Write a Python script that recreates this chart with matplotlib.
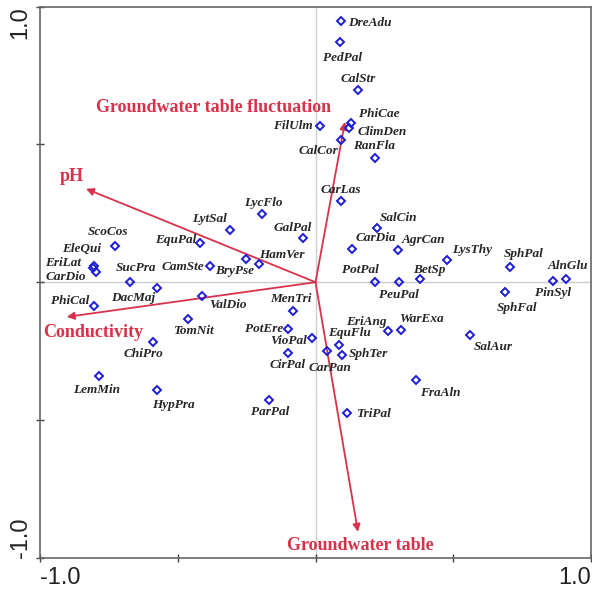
import matplotlib
matplotlib.use("Agg")
import matplotlib.pyplot as plt

# species scores (axis 1, axis 2)
species = ['DreAdu', 'PedPal', 'CalStr', 'PhiCae', 'ClimDen', 'FilUlm', 'CalCor', 'RanFla',
           'CarLas', 'SalCin', 'GalPal', 'CarDia', 'AgrCan', 'LysThy', 'SphPal', 'AlnGlu',
           'PinSyl', 'SphFal', 'PotPal', 'PeuPal', 'BetSp', 'MenTri', 'PotEre', 'VioPal',
           'CirPal', 'CarPan', 'EquFlu', 'SphTer', 'EriAng', 'WarExa', 'FraAln', 'ParPal',
           'TriPal', 'SalAur', 'ScoCos', 'EquPal', 'EleQui', 'EriLat', 'CarDio', 'SucPra',
           'CamSte', 'DacMaj', 'PhiCal', 'ValDio', 'TomNit', 'ChiPro', 'LemMin', 'HypPra',
           'LytSal', 'LycFlo', 'BryPse', 'HamVer']
sp_x = [0.091, 0.089, 0.155, 0.128, 0.121, 0.016, 0.091, 0.216,
        0.091, 0.222, -0.047, 0.131, 0.298, 0.477, 0.706, 0.911,
        0.861, 0.687, 0.216, 0.304, 0.379, -0.081, -0.099, -0.011,
        -0.101, 0.041, 0.084, 0.098, 0.263, 0.311, 0.363, -0.168,
        0.115, 0.560, -0.728, -0.420, -0.804, -0.808, -0.797, -0.674,
        -0.383, -0.575, -0.804, -0.412, -0.464, -0.589, -0.785, -0.575,
        -0.311, -0.193, -0.254, -0.205]
sp_y = [0.948, 0.873, 0.698, 0.579, 0.560, 0.568, 0.517, 0.450,
        0.293, 0.196, 0.160, 0.120, 0.116, 0.080, 0.054, 0.011,
        0.005, -0.034, 0.002, 0.002, 0.011, -0.105, -0.170, -0.201,
        -0.258, -0.249, -0.229, -0.263, -0.177, -0.173, -0.356, -0.427,
        -0.473, -0.191, 0.132, 0.142, 0.059, 0.052, 0.037, 0.000,
        0.059, -0.020, -0.086, -0.050, -0.134, -0.216, -0.340, -0.391,
        0.189, 0.249, 0.083, 0.066]

# environmental variables (arrow tips)
env_names = ['Groundwater table fluctuation', 'pH', 'Conductivity', 'Groundwater table']
env_x = [0.107, -0.833, -0.903, 0.154]
env_y = [0.582, 0.339, -0.126, -0.906]

# label offsets in pixels (dx, dy) from each symbol, to keep names readable
lab_off = {
    'DreAdu': (29, -2), 'PedPal': (2, -16), 'CalStr': (0, 11), 'PhiCae': (28, 9),
    'ClimDen': (33, -4), 'FilUlm': (-27, 0), 'CalCor': (-22, -11), 'RanFla': (-1, 12),
    'CarLas': (0, 11), 'SalCin': (22, 10), 'GalPal': (-10, 10), 'CarDia': (24, 11),
    'AgrCan': (26, 10), 'LysThy': (25, 10), 'SphPal': (14, 13), 'AlnGlu': (1, 13),
    'PinSyl': (0, -12), 'SphFal': (12, -16), 'PotPal': (-15, 12), 'PeuPal': (0, -13),
    'BetSp': (9, 9), 'MenTri': (-2, 12), 'PotEre': (-24, 0), 'VioPal': (-24, -3),
    'CirPal': (0, -12), 'CarPan': (3, -17), 'EquFlu': (11, 12), 'SphTer': (26, 1),
    'EriAng': (-22, 9), 'WarExa': (20, 11), 'FraAln': (25, -13), 'ParPal': (1, -12),
    'TriPal': (26, -1), 'SalAur': (23, -12), 'ScoCos': (-7, 14), 'EquPal': (-24, 3),
    'EleQui': (-12, 17), 'EriLat': (-30, 5), 'CarDio': (-30, -5), 'SucPra': (6, 14),
    'CamSte': (-27, -1), 'DacMaj': (-24, -10), 'PhiCal': (-24, 5), 'ValDio': (26, -9),
    'TomNit': (6, -12), 'ChiPro': (-10, -12), 'LemMin': (-3, -14), 'HypPra': (16, -15),
    'LytSal': (-20, 11), 'LycFlo': (1, 11), 'BryPse': (-11, -12), 'HamVer': (23, 9),
}
env_lab_pos = [(-0.369, 0.633), (-0.886, 0.382), (-0.808, -0.184), (0.161, -0.957)]

red = '#d8324a'
blue = '#1c1cd6'

fig = plt.figure(figsize=(5.92, 5.90), dpi=100)
ax = fig.add_axes([40 / 592, 1 - 557.7 / 590, 551 / 592, 551 / 590])

ax.axhline(0, color='#cccccc', lw=1, zorder=0)
ax.axvline(0, color='#cccccc', lw=1, zorder=0)

ax.plot(sp_x, sp_y, 'D', ms=4.5, mfc='none', mec=blue, mew=1.4, zorder=3)
for name, x, y in zip(species, sp_x, sp_y):
    dx, dy = lab_off[name]
    ax.annotate(name, (x, y), xytext=(dx, dy), textcoords='offset pixels',
                ha='center', va='center', fontsize=9.5, color='#262626',
                family='Liberation Serif', fontweight='bold', fontstyle='italic')

for name, x, y, (lx, ly) in zip(env_names, env_x, env_y, env_lab_pos):
    ax.annotate('', xy=(x, y), xytext=(0, 0),
                arrowprops=dict(arrowstyle='-|>', color=red, lw=1.3,
                                mutation_scale=11, shrinkA=0, shrinkB=0), zorder=2)
    ax.text(lx, ly, name, ha='center', va='center', fontsize=13, color=red,
            family='Liberation Serif', fontweight='bold')

ax.set_xlim(-1, 1)
ax.set_ylim(-1, 1)
ticks = [-1, -0.5, 0, 0.5, 1]
ax.set_xticks(ticks)
ax.set_yticks(ticks)
ax.set_xticklabels(['-1.0', '', '', '', '1.0'], family='Liberation Sans', fontsize=17, color='#222222')
ax.set_yticklabels(['-1.0', '', '', '', '1.0'], family='Liberation Sans', fontsize=17,
                   color='#222222', rotation=90)
xl = ax.get_xticklabels()
xl[0].set_ha('left')
xl[-1].set_ha('right')
yl = ax.get_yticklabels()
yl[0].set_va('bottom')
yl[-1].set_va('top')
ax.tick_params(direction='inout', length=6, width=1, color='#444444', pad=4)
ax.tick_params(axis='y', pad=3)
for s in ax.spines.values():
    s.set_color('#666666')
    s.set_linewidth(1.2)

fig.savefig('out.png', dpi=100)
